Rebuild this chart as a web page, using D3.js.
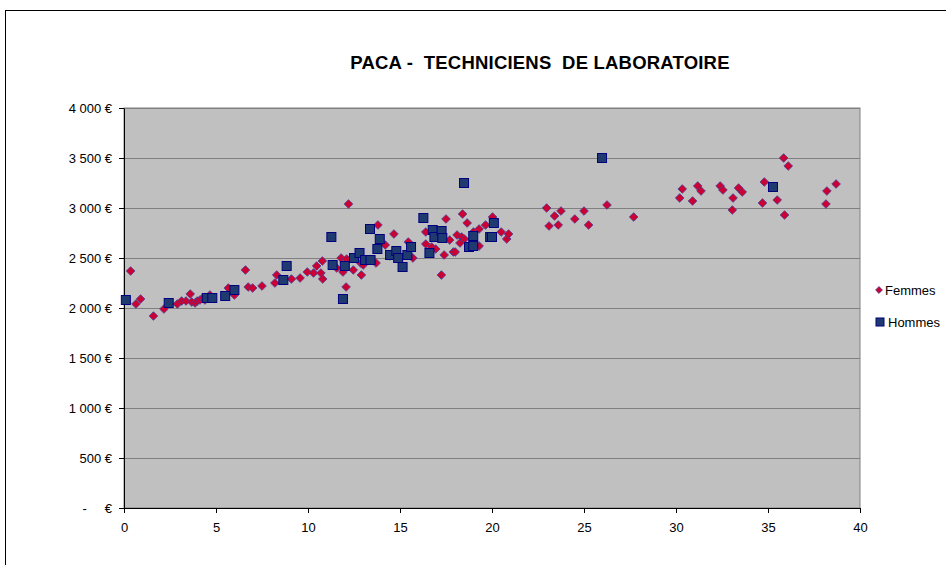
<!DOCTYPE html>
<html>
<head>
<meta charset="utf-8">
<script src="https://cdn.jsdelivr.net/npm/d3@7"></script>
<style>
  body { margin: 0; background: #fff; }
  svg { display: block; font-family: Arial, "Liberation Sans", sans-serif; }
</style>
</head>
<body>
<svg id="chart"></svg>
<script>
// seniority (years) / monthly salary (€)
var femmes = [
    [0.36, 2370], [0.65, 2040], [0.9, 2090], [1.6, 1920], [2.17, 1990],
    [2.9, 2040], [3.13, 2070], [3.37, 2070], [3.6, 2140], [3.68, 2060],
    [3.86, 2050], [3.98, 2070], [4.13, 2080], [4.28, 2100], [4.4, 2080],
    [4.67, 2130], [5.67, 2200], [6.0, 2130], [6.6, 2380], [6.75, 2210],
    [6.99, 2200], [7.5, 2220], [8.2, 2250], [8.3, 2330], [9.1, 2290],
    [9.57, 2300], [9.96, 2360], [10.3, 2350], [10.47, 2420], [10.7, 2350],
    [10.78, 2470], [10.8, 2290], [11.56, 2400], [11.8, 2500], [11.9, 2360],
    [12.07, 2210], [12.1, 2490], [12.2, 3040], [12.46, 2380], [12.86, 2450],
    [12.9, 2330], [13.0, 2430], [13.7, 2450], [13.8, 2830], [14.2, 2630],
    [14.46, 2520], [14.67, 2740], [15.45, 2660], [15.7, 2500], [16.4, 2760],
    [16.4, 2640], [16.72, 2610], [16.94, 2590], [17.25, 2330], [17.4, 2530],
    [17.5, 2890], [17.7, 2680], [17.9, 2560], [18.0, 2560], [18.1, 2730],
    [18.26, 2650], [18.35, 2710], [18.4, 2940], [18.5, 2690], [18.65, 2850],
    [18.99, 2760], [19.3, 2790], [19.3, 2620], [19.65, 2830], [20.03, 2910],
    [20.5, 2760], [20.8, 2690], [20.9, 2740], [22.97, 3000], [23.1, 2820],
    [23.4, 2920], [23.6, 2830], [23.75, 2970], [24.5, 2890], [25.0, 2970],
    [25.25, 2830], [26.25, 3030], [27.7, 2910], [30.2, 3100], [30.34, 3190],
    [30.9, 3070], [31.18, 3220], [31.36, 3170], [32.4, 3220], [32.55, 3180],
    [33.06, 2980], [33.1, 3100], [33.4, 3200], [33.6, 3160], [34.7, 3050],
    [34.8, 3260], [35.5, 3080], [35.85, 3500], [35.9, 2930], [36.1, 3420],
    [38.15, 3040], [38.2, 3170], [38.7, 3240]
];

var hommes = [
    [0.1, 2080], [2.43, 2050], [4.5, 2100], [4.8, 2100], [5.5, 2120],
    [6.0, 2180], [8.66, 2280], [8.84, 2420], [11.27, 2710], [11.34, 2430],
    [11.9, 2090], [12.0, 2420], [12.5, 2500], [12.8, 2550], [13.1, 2480],
    [13.37, 2790], [13.4, 2480], [13.77, 2590], [13.9, 2690], [14.46, 2530],
    [14.8, 2570], [14.9, 2500], [15.14, 2410], [15.4, 2530], [15.6, 2610],
    [16.27, 2900], [16.6, 2550], [16.78, 2780], [16.87, 2710], [17.26, 2770],
    [17.3, 2700], [18.48, 3250], [18.75, 2610], [18.98, 2720], [18.98, 2620],
    [19.9, 2710], [20.0, 2710], [20.1, 2850], [25.98, 3500], [35.27, 3210]
];

var xTicks = [0, 5, 10, 15, 20, 25, 30, 35, 40];
var yTicks = [0, 500, 1000, 1500, 2000, 2500, 3000, 3500, 4000];
var seriesNames = ["Femmes", "Hommes"];
var title = "PACA -  TECHNICIENS  DE LABORATOIRE";

var W = 946, H = 565;
var margin = { top: 108, right: 86, bottom: 57, left: 124 },
    w = W - margin.left - margin.right,
    h = H - margin.top - margin.bottom;

var svg = d3.select("#chart")
    .attr("width", W)
    .attr("height", H);

// outer chart frame (right and bottom edges fall outside the picture)
svg.append("rect")
    .attr("x", 5.5)
    .attr("y", 10.5)
    .attr("width", W + 10)
    .attr("height", H + 10)
    .attr("fill", "#fff")
    .attr("stroke", "#000")
    .attr("stroke-width", 1);

svg.append("text")
    .attr("x", 540)
    .attr("y", 69)
    .attr("text-anchor", "middle")
    .style("font-size", "18.5px")
    .style("font-weight", "bold")
    .style("letter-spacing", "0.2px")
    .style("white-space", "pre")
    .attr("xml:space", "preserve")
    .text(title);

var g = svg.append("g")
    .attr("transform", "translate(" + margin.left + "," + margin.top + ")");

var xScale = d3.scaleLinear().domain([0, 40]).range([0, w]);
var yScale = d3.scaleLinear().domain([0, 4000]).range([h, 0]);

// plot area
g.append("rect")
    .attr("width", w)
    .attr("height", h)
    .attr("fill", "#c0c0c0")
    .attr("stroke", "#808080")
    .attr("stroke-width", 1);

// horizontal gridlines
g.selectAll("line.grid")
    .data(yTicks.filter(function(d) { return d > 0; }))
    .enter().append("line")
    .attr("class", "grid")
    .attr("x1", 0)
    .attr("x2", w)
    .attr("y1", function(d) { return Math.round(yScale(d)) + 0.5; })
    .attr("y2", function(d) { return Math.round(yScale(d)) + 0.5; })
    .attr("stroke", "#808080")
    .attr("stroke-width", 1);

function euro(v) {
    if (v === 0) return "-     €";
    return d3.format(",")(v).replace(",", " ") + " €";
}

var xAxis = d3.axisBottom(xScale).tickValues(xTicks).tickSize(5).tickSizeOuter(0);
var yAxis = d3.axisLeft(yScale).tickValues(yTicks).tickSize(5).tickSizeOuter(0).tickFormat(euro);

var gx = g.append("g")
    .attr("transform", "translate(0," + h + ")")
    .call(xAxis);

var gy = g.append("g")
    .call(yAxis);

[gx, gy].forEach(function(a) {
    a.selectAll("path, line").attr("stroke", "#000");
    a.selectAll("text")
        .attr("fill", "#000")
        .style("font-size", "13px")
        .style("font-family", "Arial, 'Liberation Sans', sans-serif");
});
gx.selectAll("text").attr("dy", "1.2em");
gy.selectAll("text").attr("x", -12).style("white-space", "pre").attr("xml:space", "preserve");

var diamond = d3.symbol().type(d3.symbolDiamond2).size(48);

// Femmes
g.selectAll("path.femme")
    .data(femmes)
    .enter().append("path")
    .attr("class", "femme")
    .attr("d", diamond)
    .attr("transform", function(d) {
        return "translate(" + xScale(d[0]) + "," + yScale(d[1]) + ")";
    })
    .attr("fill", "#cc0033")
    .attr("stroke", "#4a3c93")
    .attr("stroke-width", 0.8);

// Hommes
g.selectAll("rect.homme")
    .data(hommes)
    .enter().append("rect")
    .attr("class", "homme")
    .attr("x", function(d) { return xScale(d[0]) - 4.5; })
    .attr("y", function(d) { return yScale(d[1]) - 4.5; })
    .attr("width", 9)
    .attr("height", 9)
    .attr("fill", "#1f3a6e")
    .attr("stroke", "#000080")
    .attr("stroke-width", 1);

// legend
var legend = svg.selectAll(".legend")
    .data(seriesNames)
    .enter().append("g")
    .attr("class", "legend")
    .attr("transform", function(d, i) {
        return "translate(0," + (290 + i * 32) + ")";
    });

legend.each(function(d, i) {
    var l = d3.select(this);
    if (i === 0) {
        l.append("path")
            .attr("d", d3.symbol().type(d3.symbolDiamond2).size(30))
            .attr("transform", "translate(879,0)")
            .attr("fill", "#cc0033")
            .attr("stroke", "#4a3c93")
            .attr("stroke-width", 0.8);
    } else {
        l.append("rect")
            .attr("x", 876)
            .attr("y", -4)
            .attr("width", 8)
            .attr("height", 8)
            .attr("fill", "#1f3a6e")
            .attr("stroke", "#000080");
    }
    l.append("text")
        .attr("x", i === 0 ? 885 : 888)
        .attr("y", 0)
        .attr("dy", ".35em")
        .style("font-size", "13px")
        .text(d);
});
</script>
</body>
</html>
